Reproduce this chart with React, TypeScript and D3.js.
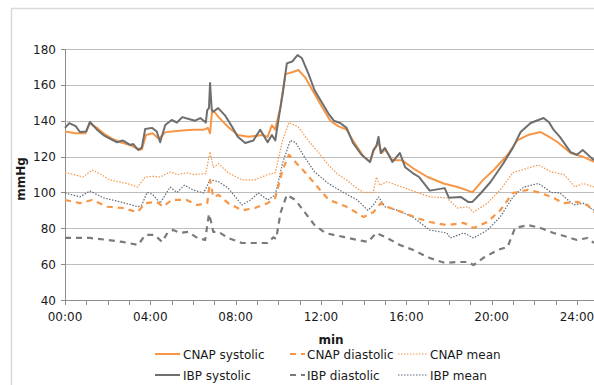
import React from "react";
import * as d3 from "d3";

// hours, mmHg
const cnapSys: [number, number][] = [
  [0, 134], [0.5, 133], [0.95, 133], [1.15, 138.5], [1.5, 136], [1.8, 133], [2.2, 130], [2.6, 128],
  [3.05, 126.5], [3.43, 124], [3.6, 124], [3.8, 132], [4.1, 133], [4.4, 130], [4.7, 133.5], [5.0, 134],
  [5.5, 134.5], [6.0, 135], [6.5, 135], [6.7, 136], [6.8, 133], [6.9, 146], [7.0, 145], [7.2, 142],
  [7.65, 136.5], [8.1, 132], [8.6, 131], [9.25, 132], [9.5, 131], [9.7, 137.5], [9.85, 135], [10.1, 147.5],
  [10.33, 166], [10.65, 167], [10.94, 168.3], [11.27, 164], [11.6, 157], [12.05, 147.7], [12.44, 140],
  [12.8, 137], [13.2, 135], [13.5, 129], [14.0, 120], [14.3, 117], [14.46, 123], [14.7, 128], [14.85, 122],
  [15.0, 124], [15.35, 118], [15.8, 118], [16.3, 113.6], [17.0, 108.6], [17.75, 105], [18.4, 103],
  [18.9, 101], [19.1, 100], [19.6, 107], [20.1, 112.5], [20.75, 121], [21.2, 129], [21.7, 132],
  [22.3, 133.7], [22.7, 131], [23.1, 128], [23.7, 122], [24.3, 119.8], [24.8, 117],
];
const cnapDia: [number, number][] = [
  [0, 95.8], [0.7, 94], [1.27, 95.8], [2.0, 92], [2.7, 91.3], [3.4, 89], [3.76, 94], [4.3, 94.7], [4.6, 92],
  [5.0, 95.8], [5.7, 95.8], [6.2, 93], [6.67, 94], [6.8, 107], [6.95, 97.5], [7.2, 98.6], [7.65, 94],
  [8.3, 90], [8.9, 91.3], [9.5, 94], [9.86, 97], [10.2, 112.5], [10.5, 121], [10.8, 117], [11.27, 111],
  [11.7, 105], [12.35, 96], [13.2, 92], [14.0, 86.3], [14.46, 89], [14.8, 94], [15.25, 91.3], [15.8, 89],
  [16.5, 85.7], [17.1, 83.5], [17.9, 81.8], [18.7, 83], [19.15, 80.2], [19.8, 83.5], [20.4, 90], [21.0, 99.7],
  [21.7, 101.4], [22.2, 100], [22.8, 97.5], [23.4, 94], [24.0, 94.7], [24.5, 93], [24.8, 89],
];
const cnapMean: [number, number][] = [
  [0, 111], [0.4, 110], [0.85, 108.6], [1.27, 112.5], [1.7, 110], [2.1, 107], [2.5, 106], [2.9, 105],
  [3.4, 103], [3.76, 108.6], [4.1, 109], [4.46, 108.6], [4.93, 111.4], [5.3, 110], [5.7, 111], [6.0, 110],
  [6.6, 110.5], [6.8, 122.6], [6.95, 114], [7.2, 116], [7.65, 111], [8.3, 107], [8.9, 107], [9.5, 110],
  [9.86, 111], [10.2, 129], [10.5, 139], [10.94, 136.5], [11.4, 129], [11.9, 122], [12.35, 115.3],
  [12.8, 110], [13.2, 107], [13.6, 103], [14.0, 100], [14.45, 100], [14.6, 108.6], [14.75, 104],
  [15.1, 106], [15.8, 103], [16.5, 100], [17.1, 97.5], [17.9, 97], [18.4, 91.3], [18.9, 92], [19.15, 89],
  [19.8, 94], [20.4, 101.4], [21.0, 111], [21.7, 113.6], [22.2, 115.3], [22.8, 111.4], [23.4, 110],
  [23.9, 103], [24.3, 105], [24.8, 103],
];
const ibpSys: [number, number][] = [
  [0, 136], [0.2, 138.7], [0.5, 137], [0.7, 133.7], [1.0, 134], [1.17, 139.3], [1.5, 135], [1.8, 132],
  [2.1, 130], [2.44, 128], [2.7, 129], [3.05, 126.5], [3.2, 127], [3.43, 123.7], [3.6, 125], [3.76, 135.4],
  [4.08, 136], [4.3, 134], [4.46, 128], [4.7, 137.6], [5.0, 140.4], [5.25, 139], [5.5, 142], [5.8, 141],
  [6.1, 140], [6.34, 141.5], [6.6, 139], [6.67, 146], [6.75, 147], [6.8, 161], [6.88, 146], [6.95, 145],
  [7.18, 147], [7.5, 143], [7.84, 136.5], [8.1, 131], [8.45, 127.6], [8.83, 129], [9.15, 135], [9.3, 132],
  [9.5, 128], [9.7, 132], [9.86, 129], [10.0, 140], [10.23, 157], [10.4, 172], [10.65, 173], [10.9, 176.6],
  [11.1, 175], [11.4, 166.6], [11.7, 157], [12.05, 150], [12.35, 144], [12.6, 140], [12.9, 138.7],
  [13.2, 136], [13.5, 127.6], [13.9, 121], [14.3, 117], [14.46, 123.7], [14.6, 126], [14.7, 131],
  [14.8, 122], [15.0, 124.8], [15.35, 117], [15.7, 122], [15.95, 114], [16.3, 110.8], [16.6, 108.6],
  [17.1, 101], [17.8, 102.4], [18.0, 97], [18.55, 97.5], [18.9, 94.7], [19.1, 94.7], [19.5, 99.7],
  [19.95, 105.8], [20.56, 116.4], [21.0, 125], [21.36, 133.7], [21.83, 138.7], [22.1, 140], [22.44, 141.5],
  [22.7, 139], [22.9, 135], [23.2, 131], [23.7, 122.5], [24.0, 121], [24.27, 123.7], [24.7, 119], [24.8, 118],
];
const ibpDia: [number, number][] = [
  [0, 74.6], [1.17, 74.6], [2.0, 73.5], [2.7, 72.4], [3.43, 70.7], [3.76, 76.3], [4.2, 76.3], [4.55, 72.4],
  [4.8, 77.4], [5.07, 79], [5.4, 77.4], [5.77, 78], [6.2, 74.6], [6.57, 73.5], [6.75, 88], [6.85, 83.5],
  [6.95, 78], [7.2, 78], [7.65, 74.6], [8.3, 71.8], [8.9, 71.8], [9.5, 71.8], [9.77, 75], [9.9, 74],
  [10.1, 88.5], [10.4, 98.6], [10.8, 95.8], [11.27, 88.5], [11.7, 81.8], [12.2, 77.4], [12.6, 76.3],
  [13.05, 75.2], [13.7, 73.5], [14.2, 72.4], [14.6, 77.4], [15.1, 74.6], [15.7, 70.7], [16.3, 68],
  [17.1, 63.4], [17.8, 60.7], [18.4, 61.2], [18.9, 61.2], [19.15, 59.5], [19.6, 63.4], [20.3, 68],
  [20.75, 69.6], [21.1, 80.2], [21.7, 81.8], [22.3, 80.2], [22.9, 77.4], [23.55, 75.2], [24.0, 73.5],
  [24.5, 74.6], [24.8, 71.8],
];
const ibpMean: [number, number][] = [
  [0, 99.7], [0.7, 97.5], [1.17, 100.8], [1.8, 97], [2.6, 94.7], [3.43, 92], [3.6, 93], [3.85, 100],
  [4.1, 99], [4.46, 94], [4.93, 103], [5.25, 100], [5.6, 104], [6.0, 101.4], [6.5, 99.7], [6.8, 107],
  [7.2, 106], [7.65, 102.4], [8.3, 93], [8.7, 95.8], [9.06, 99.7], [9.5, 95.8], [9.86, 98.6], [10.2, 116.4],
  [10.56, 129], [10.8, 128], [11.27, 119], [11.7, 111.4], [12.35, 105], [13.05, 100], [13.7, 95.8],
  [14.2, 90], [14.46, 93], [14.7, 97.5], [15.0, 92], [15.6, 90], [16.3, 86.3], [17.1, 79], [17.9, 77.4],
  [18.06, 74.6], [18.7, 77.4], [19.15, 74.6], [19.8, 79], [20.4, 86.3], [21.0, 97.5], [21.5, 103],
  [22.2, 105], [22.8, 100], [23.2, 99.7], [23.85, 93], [24.3, 94], [24.8, 90],
];

const yTicks = [40, 60, 80, 100, 120, 140, 160, 180];
const xLabelHours = [0, 4, 8, 12, 16, 20, 24];

const ORANGE = "#f79646";
const GREY = "#6e6e6e";
const GREY_MEAN = "#5f6b78";

const series = [
  { name: "CNAP systolic", data: cnapSys, color: ORANGE, width: 2, dash: "" },
  { name: "CNAP diastolic", data: cnapDia, color: ORANGE, width: 2.2, dash: "6,5" },
  { name: "CNAP mean", data: cnapMean, color: ORANGE, width: 1.2, dash: "1.5,1.5" },
  { name: "IBP systolic", data: ibpSys, color: GREY, width: 2, dash: "" },
  { name: "IBP diastolic", data: ibpDia, color: "#7a7a7a", width: 2.2, dash: "6,5" },
  { name: "IBP mean", data: ibpMean, color: GREY_MEAN, width: 1.2, dash: "1.5,1.5" },
];
// drawing order: means, diastolics, then systolics with grey on top
const drawOrder = [2, 5, 1, 4, 0, 3];

const W = 594;
const H = 385;
const FONT = "'DejaVu Sans', Verdana, sans-serif";

export default function App() {
  const x = d3.scaleLinear().domain([0, 24.8]).range([65, 594]);
  const y = d3.scaleLinear().domain([40, 180]).range([300, 49]);
  const line = d3
    .line<[number, number]>()
    .x((d) => x(d[0]))
    .y((d) => y(d[1]));

  const hourTicks = d3.range(0, 25);
  const fmt = (h: number) => (h < 10 ? "0" : "") + h + ":00";

  const legendCols = [155, 290, 398];
  const legendRows = [354, 375];

  return (
    <svg width={W} height={H} style={{ position: "absolute", left: 0, top: 0, background: "#fff" }} fontFamily={FONT}>
      <rect x={11.5} y={8.5} width={620} height={420} fill="#fff" stroke="#d9d9d9" strokeWidth={1.5} />

      {yTicks.map((t) => (
        <line key={"g" + t} x1={65} x2={W} y1={Math.round(y(t)) + 0.5} y2={Math.round(y(t)) + 0.5}
          stroke={t === 40 ? "#8c8c8c" : "#bdbdbd"} strokeWidth={1} />
      ))}
      <line x1={65.5} x2={65.5} y1={49} y2={305} stroke="#8c8c8c" />
      {yTicks.map((t) => (
        <line key={"yt" + t} x1={61} x2={65} y1={Math.round(y(t)) + 0.5} y2={Math.round(y(t)) + 0.5} stroke="#8c8c8c" />
      ))}
      {hourTicks.map((h) => (
        <line key={"xt" + h} x1={Math.round(x(h)) + 0.5} x2={Math.round(x(h)) + 0.5} y1={300} y2={305} stroke="#8c8c8c" />
      ))}

      {yTicks.map((t) => (
        <text key={"yl" + t} x={56} y={y(t) + 4.5} textAnchor="end" fontSize={12} fill="#1a1a1a">{t}</text>
      ))}
      {xLabelHours.map((h) => (
        <text key={"xl" + h} x={x(h)} y={321} textAnchor="middle" fontSize={12} fill="#1a1a1a">{fmt(h)}</text>
      ))}

      <text x={331} y={344} textAnchor="middle" fontSize={12} fontWeight="bold" fill="#1a1a1a">min</text>
      <text transform="translate(25,179) rotate(-90)" textAnchor="middle" fontSize={12} fontWeight="bold" fill="#1a1a1a">mmHg</text>

      {drawOrder.map((i) => {
        const s = series[i];
        return (
          <path key={s.name} d={line(s.data) || ""} fill="none" stroke={s.color} strokeWidth={s.width}
            strokeDasharray={s.dash || undefined} strokeLinejoin="round" />
        );
      })}

      {series.map((s, i) => {
        const col = i % 3;
        const row = Math.floor(i / 3);
        const lx = legendCols[col];
        const ly = legendRows[row];
        const len = col === 2 ? 29 : 25;
        const x0 = col === 1 ? lx : lx;
        return (
          <g key={"lg" + s.name}>
            <line x1={x0} x2={x0 + (col === 1 ? 15 : len)} y1={ly} y2={ly} stroke={s.color} strokeWidth={s.width}
              strokeDasharray={s.dash || undefined} />
            <text x={lx + (col === 1 ? 17 : len + 3)} y={ly + 4.5} fontSize={12} fill="#1a1a1a">{s.name}</text>
          </g>
        );
      })}
    </svg>
  );
}
